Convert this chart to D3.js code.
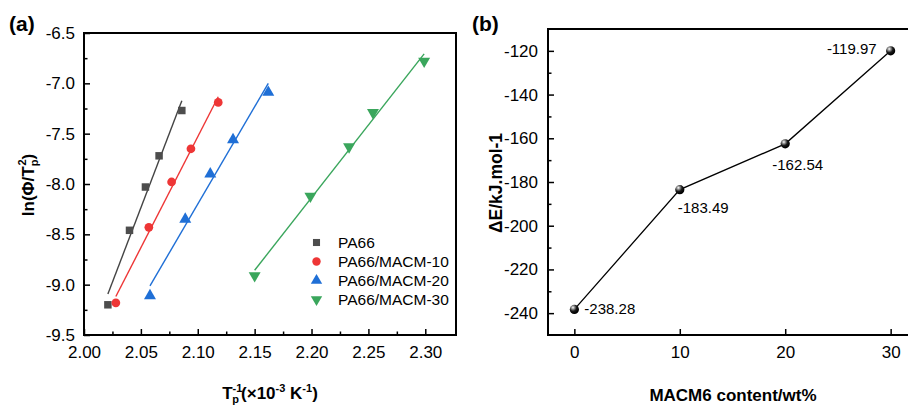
<!DOCTYPE html>
<html>
<head>
<meta charset="utf-8">
<script src="https://cdn.jsdelivr.net/npm/d3@7"></script>
<style>
  html, body { margin: 0; padding: 0; background: #fff; }
  svg { display: block; font-family: "Liberation Sans", Arial, Helvetica, sans-serif; }
</style>
</head>
<body>
<svg id="chart" width="908" height="407"></svg>
<script>
// ---------------- DATA ----------------
// Panel (a): ln(Φ/Tp²) vs Tp^-1 (×10^-3 K^-1)
const seriesNames = ["PA66", "PA66/MACM-10", "PA66/MACM-20", "PA66/MACM-30"];
const pa66X   = [2.021, 2.040, 2.054, 2.066, 2.086];
const pa66Y   = [-9.20, -8.46, -8.03, -7.72, -7.27];
const macm10X = [2.028, 2.057, 2.077, 2.094, 2.118];
const macm10Y = [-9.18, -8.43, -7.98, -7.65, -7.19];
const macm20X = [2.058, 2.089, 2.111, 2.131, 2.162];
const macm20Y = [-9.11, -8.35, -7.90, -7.56, -7.09];
const macm30X = [2.150, 2.199, 2.233, 2.254, 2.299];
const macm30Y = [-8.91, -8.12, -7.63, -7.29, -6.78];
const aXTicks = [2.00, 2.05, 2.10, 2.15, 2.20, 2.25, 2.30];
const aYTicks = [-9.5, -9.0, -8.5, -8.0, -7.5, -7.0, -6.5];

// Panel (b): ΔE vs MACM6 content
const contentWt = [0, 10, 20, 30];
const deltaE    = [-238.28, -183.49, -162.54, -119.97];
const bXTicks = [0, 10, 20, 30];
const bYTicks = [-240, -220, -200, -180, -160, -140, -120];

// ---------------- STYLE / LAYOUT ----------------
const colors  = ["#4d4d4d", "#ee3636", "#1f6fd6", "#3aa65c"];
const lineColors = ["#444444", "#ee3636", "#1f6fd6", "#3aa65c"];
const symbols = [d3.symbolSquare, d3.symbolCircle, d3.symbolTriangle, "down"];
const labelOffsets = [
  {dx: 10, dy: 5, anchor: "start"},
  {dx: -2, dy: 23, anchor: "start"},
  {dx: -13, dy: 26, anchor: "start"},
  {dx: -14, dy: 3, anchor: "end"}
];

const svg = d3.select("#chart");
const defs = svg.append("defs");
const grad = defs.append("radialGradient").attr("id", "ball")
  .attr("cx", "35%").attr("cy", "30%").attr("r", "65%");
grad.append("stop").attr("offset", "0%").attr("stop-color", "#ffffff");
grad.append("stop").attr("offset", "25%").attr("stop-color", "#9a9a9a");
grad.append("stop").attr("offset", "60%").attr("stop-color", "#1a1a1a");
grad.append("stop").attr("offset", "100%").attr("stop-color", "#000000");

function markerPath(i, size) {
  if (symbols[i] === "down") {
    return d3.symbol(d3.symbolTriangle, size)() ;
  }
  return d3.symbol(symbols[i], size)();
}

function styleAxis(g) {
  g.select(".domain").remove();
  g.selectAll(".tick line").attr("stroke", "#000").attr("stroke-width", 1.5);
  g.selectAll(".tick text").attr("fill", "#000").style("font-size", "17px");
}

const fmtA1 = d => d.toFixed(1);
const fmtA2 = d => d.toFixed(2);
const fmtB  = d => String(d);

// ================= PANEL (a) =================
const A = {l: 84, r: 456, t: 33, b: 335};
const xa = d3.scaleLinear().domain([2.00, 2.327]).range([A.l, A.r]);
const ya = d3.scaleLinear().domain([-9.5, -6.5]).range([A.b, A.t]);

const aXMinor = aXTicks.slice(0, -1).map((d, i) => (d + aXTicks[i + 1]) / 2);
const aYMinor = aYTicks.slice(0, -1).map((d, i) => (d + aYTicks[i + 1]) / 2);

svg.append("g").attr("transform", `translate(0,${A.b})`)
  .call(d3.axisBottom(xa).tickValues(aXTicks).tickFormat(fmtA2).tickSizeInner(-6).tickSizeOuter(0).tickPadding(11))
  .call(styleAxis);
svg.append("g").attr("transform", `translate(0,${A.b})`)
  .call(d3.axisBottom(xa).tickValues(aXMinor).tickFormat("").tickSizeInner(-3.5).tickSizeOuter(0))
  .call(styleAxis);
svg.append("g").attr("transform", `translate(${A.l},0)`)
  .call(d3.axisLeft(ya).tickValues(aYTicks).tickFormat(fmtA1).tickSizeInner(-6).tickSizeOuter(0).tickPadding(9))
  .call(styleAxis);
svg.append("g").attr("transform", `translate(${A.l},0)`)
  .call(d3.axisLeft(ya).tickValues(aYMinor).tickFormat("").tickSizeInner(-3.5).tickSizeOuter(0))
  .call(styleAxis);

const allX = [pa66X, macm10X, macm20X, macm30X];
const allY = [pa66Y, macm10Y, macm20Y, macm30Y];

function linfit(xs, ys) {
  const n = xs.length;
  const mx = d3.mean(xs), my = d3.mean(ys);
  let sxy = 0, sxx = 0;
  for (let i = 0; i < n; i++) { sxy += (xs[i] - mx) * (ys[i] - my); sxx += (xs[i] - mx) ** 2; }
  const k = sxy / sxx;
  return x => my + k * (x - mx);
}

allX.forEach((xs, si) => {
  const ys = allY[si];
  const f = linfit(xs, ys);
  const x0 = d3.min(xs), x1 = d3.max(xs);
  svg.append("line")
    .attr("x1", xa(x0)).attr("y1", ya(f(x0)))
    .attr("x2", xa(x1)).attr("y2", ya(f(x1)))
    .attr("stroke", lineColors[si]).attr("stroke-width", 1.4);
  const pts = xs.map((x, i) => [x, ys[i]]);
  svg.append("g").selectAll("path").data(pts).join("path")
    .attr("d", markerPath(si, si === 0 ? 56 : (si === 1 ? 60 : 62)))
    .attr("transform", d => `translate(${xa(d[0])},${ya(d[1])})` + (si === 3 ? " rotate(180)" : ""))
    .attr("fill", colors[si]);
});

// frame
svg.append("rect").attr("x", A.l).attr("y", A.t).attr("width", A.r - A.l).attr("height", A.b - A.t)
  .attr("fill", "none").attr("stroke", "#000").attr("stroke-width", 2);

// legend
const legY = [242.5, 261.5, 280.5, 299.5];
seriesNames.forEach((name, i) => {
  svg.append("path").attr("d", markerPath(i, i === 0 ? 50 : 56))
    .attr("transform", `translate(316.5,${legY[i]})` + (i === 3 ? " rotate(180)" : ""))
    .attr("fill", colors[i]);
  svg.append("text").attr("x", 338).attr("y", legY[i] + 5.5)
    .style("font-size", "15.5px").attr("fill", "#000").text(name);
});

// axis titles (a)
const xtA = svg.append("text").attr("x", 270).attr("y", 399).attr("text-anchor", "middle")
  .style("font-size", "17px").style("font-weight", "bold");
xtA.append("tspan").text("T");
xtA.append("tspan").attr("dy", -7).style("font-size", "11px").text("-1");
xtA.append("tspan").attr("dx", -10).attr("dy", 11).style("font-size", "11px").text("p");
xtA.append("tspan").attr("dx", 2).attr("dy", -4).text("(×10");
xtA.append("tspan").attr("dy", -7).style("font-size", "11px").text("-3");
xtA.append("tspan").attr("dy", 7).text(" K");
xtA.append("tspan").attr("dy", -7).style("font-size", "11px").text("-1");
xtA.append("tspan").attr("dy", 7).text(")");

const ytA = svg.append("text").attr("transform", "translate(34,185) rotate(-90)").attr("text-anchor", "middle")
  .style("font-size", "17px").style("font-weight", "bold");
ytA.append("tspan").text("ln(Φ/T");
ytA.append("tspan").attr("dy", 4).style("font-size", "11px").text("p");
ytA.append("tspan").attr("dx", -6).attr("dy", -12).style("font-size", "11px").text("2");
ytA.append("tspan").attr("dy", 8).text(")");

svg.append("text").attr("x", 9).attr("y", 31).style("font-size", "21px").style("font-weight", "bold").text("(a)");

// ================= PANEL (b) =================
const B = {l: 548, r: 917, t: 29, b: 335};
const xb = d3.scaleLinear().domain([-2.5, 32.5]).range([B.l, B.r]);
const yb = d3.scaleLinear().domain([-250, -110]).range([B.b, B.t]);
const bYMinor = bYTicks.slice(0, -1).map((d, i) => (d + bYTicks[i + 1]) / 2);

svg.append("g").attr("transform", `translate(0,${B.b})`)
  .call(d3.axisBottom(xb).tickValues(bXTicks).tickFormat(fmtB).tickSizeInner(-6).tickSizeOuter(0).tickPadding(11))
  .call(styleAxis);
svg.append("g").attr("transform", `translate(${B.l},0)`)
  .call(d3.axisLeft(yb).tickValues(bYTicks).tickFormat(fmtB).tickSizeInner(-6).tickSizeOuter(0).tickPadding(10))
  .call(styleAxis);
svg.append("g").attr("transform", `translate(${B.l},0)`)
  .call(d3.axisLeft(yb).tickValues(bYMinor).tickFormat("").tickSizeInner(-3.5).tickSizeOuter(0))
  .call(styleAxis);

const bPts = contentWt.map((x, i) => [x, deltaE[i]]);
svg.append("path").datum(bPts)
  .attr("d", d3.line().x(d => xb(d[0])).y(d => yb(d[1])))
  .attr("fill", "none").attr("stroke", "#000").attr("stroke-width", 1.3);
svg.append("g").selectAll("circle").data(bPts).join("circle")
  .attr("cx", d => xb(d[0])).attr("cy", d => yb(d[1])).attr("r", 4.6)
  .attr("fill", "url(#ball)");
svg.append("g").selectAll("text").data(bPts).join("text")
  .attr("x", (d, i) => xb(d[0]) + labelOffsets[i].dx)
  .attr("y", (d, i) => yb(d[1]) + labelOffsets[i].dy)
  .attr("text-anchor", (d, i) => labelOffsets[i].anchor)
  .style("font-size", "15px").attr("fill", "#000")
  .text(d => d[1].toFixed(2));

svg.append("rect").attr("x", B.l).attr("y", B.t).attr("width", B.r - B.l).attr("height", B.b - B.t)
  .attr("fill", "none").attr("stroke", "#000").attr("stroke-width", 2);

svg.append("text").attr("x", 733).attr("y", 401).attr("text-anchor", "middle")
  .style("font-size", "17px").style("font-weight", "bold").text("MACM6 content/wt%");
svg.append("text").attr("transform", "translate(502,183) rotate(-90)").attr("text-anchor", "middle")
  .style("font-size", "17.5px").style("font-weight", "bold").text("ΔE/kJ.mol-1");

svg.append("text").attr("x", 472).attr("y", 31).style("font-size", "21px").style("font-weight", "bold").text("(b)");
</script>
</body>
</html>
